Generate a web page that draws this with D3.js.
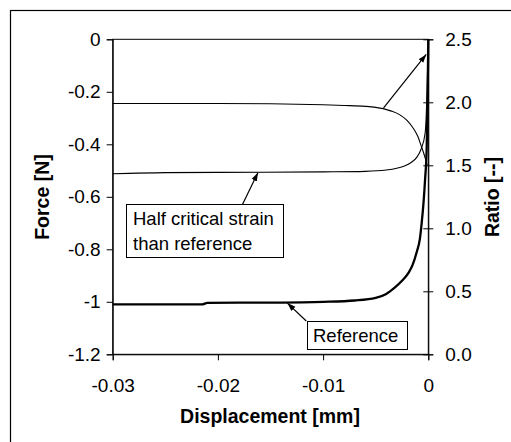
<!DOCTYPE html>
<html>
<head>
<meta charset="utf-8">
<script src="https://cdn.jsdelivr.net/npm/d3@7"></script>
<style>
body { margin: 0; background: #fff; }
svg { display: block; font-family: "Liberation Sans", Arial, sans-serif; }
</style>
</head>
<body>
<div class="canvas" id="canvas"></div>
<script>
// data
var xTicks = [-0.03, -0.02, -0.01, 0];
var forceTicks = [0, -0.2, -0.4, -0.6, -0.8, -1, -1.2];
var ratioTicks = [0, 0.5, 1, 1.5, 2, 2.5];

// reference force [disp, force]
var refForce = [
  [-0.03, -1.01], [-0.0215, -1.01], [-0.021, -1.004], [-0.015, -1.003],
  [-0.01, -1.0], [-0.007, -0.995], [-0.005, -0.985], [-0.004, -0.97],
  [-0.00317, -0.945], [-0.0025, -0.92], [-0.0019, -0.891], [-0.0015, -0.86],
  [-0.0011, -0.81], [-0.0008, -0.76], [-0.00063, -0.70], [-0.00045, -0.62],
  [-0.00031, -0.536], [-0.00015, -0.409], [-0.00006, -0.2], [0, 0]
];
// half critical strain force
var halfForce = [
  [-0.03, -0.512], [-0.025, -0.508], [-0.02, -0.507], [-0.01, -0.505],
  [-0.006, -0.503], [-0.004, -0.498], [-0.003, -0.491], [-0.0017, -0.471],
  [-0.0011, -0.45], [-0.0007, -0.42], [-0.0003, -0.357], [-0.00012, -0.2], [0, 0]
];
// ratio curve
var ratio = [
  [-0.03, 1.99], [-0.02, 1.99], [-0.01, 1.98], [-0.008, 1.975], [-0.006, 1.968],
  [-0.005, 1.96], [-0.0043, 1.95], [-0.0035, 1.93], [-0.0027, 1.90], [-0.002, 1.855],
  [-0.0014, 1.79], [-0.001, 1.73], [-0.0007, 1.66], [-0.0003, 1.56], [-0.0001, 1.5]
];

var W = 511, H = 442;

var svg = d3.select('.canvas').append('svg')
    .attr('width', W).attr('height', H);

// outer frame
svg.append('rect')
    .attr('x', 10.5).attr('y', 10.5)
    .attr('width', W).attr('height', H)
    .attr('fill', 'none').attr('stroke', '#000').attr('stroke-width', 1.2);

var x = d3.scaleLinear().domain([-0.03, 0]).range([112.7, 428.3]);
var yF = d3.scaleLinear().domain([-1.2, 0]).range([354.3, 39.3]);
var yR = d3.scaleLinear().domain([0, 2.5]).range([354.3, 39.3]);

var plot = svg.append('g');

// plot border
plot.append('rect')
    .attr('x', x(-0.03)).attr('y', yF(0))
    .attr('width', x(0) - x(-0.03)).attr('height', yF(-1.2) - yF(0))
    .attr('fill', 'none').attr('stroke', '#000').attr('stroke-width', 1);

function hy(s) { return s.replace('\u2212', '-'); }

var xAxis = plot.append('g')
    .attr('transform', 'translate(0,' + yF(-1.2) + ')')
    .call(d3.axisBottom(x).tickValues(xTicks).tickSizeOuter(0).tickSize(6).tickPadding(18)
        .tickFormat(function(d){ return d === 0 ? '0' : hy(d3.format('.2f')(d)); }));

var yAxisL = plot.append('g')
    .attr('transform', 'translate(' + x(-0.03) + ',0)')
    .call(d3.axisLeft(yF).tickValues(forceTicks).tickSizeOuter(0).tickSize(6).tickPadding(6)
        .tickFormat(function(d){ return d === 0 ? '0' : (d === -1 ? '-1' : hy(d3.format('.1f')(d))); }));

var yAxisR = plot.append('g')
    .attr('transform', 'translate(' + x(0) + ',0)')
    .call(d3.axisRight(yR).tickValues(ratioTicks).tickSizeOuter(0).tickSize(5).tickPadding(12)
        .tickFormat(d3.format('.1f')));
// right ticks cross the axis
yAxisR.selectAll('.tick line').attr('x1', -5);

[xAxis, yAxisL, yAxisR].forEach(function(a){
    a.attr('font-size', 19).attr('font-family', '"Liberation Sans", Arial, sans-serif');
    a.select('.domain').attr('stroke', '#000');
    a.selectAll('.tick line').attr('stroke', '#000');
    a.selectAll('text').attr('fill', '#000');
});

// curves
var lineF = d3.line().curve(d3.curveMonotoneX)
    .x(function(d){ return x(d[0]); }).y(function(d){ return yF(d[1]); });
var lineR = d3.line().curve(d3.curveMonotoneX)
    .x(function(d){ return x(d[0]); }).y(function(d){ return yR(d[1]); });

plot.append('path').attr('d', lineR(ratio))
    .attr('fill', 'none').attr('stroke', '#000').attr('stroke-width', 1.1);
plot.append('path').attr('d', lineF(halfForce))
    .attr('fill', 'none').attr('stroke', '#000').attr('stroke-width', 1.1);
plot.append('path').attr('d', lineF(refForce))
    .attr('fill', 'none').attr('stroke', '#000').attr('stroke-width', 2.3);

// arrows
var defs = svg.append('defs');
defs.append('marker').attr('id', 'arr')
    .attr('viewBox', '0 0 10 10').attr('refX', 10).attr('refY', 5)
    .attr('markerWidth', 7).attr('markerHeight', 7).attr('orient', 'auto')
    .append('path').attr('d', 'M0,1.5 L10,5 L0,8.5 Z').attr('fill', '#000');

function arrow(x1, y1, x2, y2) {
    plot.append('line')
        .attr('x1', x1).attr('y1', y1).attr('x2', x2).attr('y2', y2)
        .attr('stroke', '#000').attr('stroke-width', 1.2)
        .attr('marker-end', 'url(#arr)');
}
arrow(x(-0.00425), yR(1.955), x(-0.0002), yR(2.38));
arrow(x(-0.0177), yF(-0.632), x(-0.0162), yF(-0.508));
arrow(x(-0.0116), yF(-1.073), x(-0.0134), yF(-1.005));

// annotation boxes
function box(x0, y0, w, h, lines, tx, ty) {
    plot.append('rect').attr('x', x0).attr('y', y0).attr('width', w).attr('height', h)
        .attr('fill', '#fff').attr('stroke', '#000').attr('stroke-width', 1);
    lines.forEach(function(s, i){
        plot.append('text').attr('x', tx).attr('y', ty + i * 25)
            .attr('font-size', 18.5).text(s);
    });
}
box(126.5, 204.5, 157, 53, ['Half critical strain', 'than reference'], 133, 225);
box(307.5, 321.5, 100, 28, ['Reference'], 313, 342);

// axis titles
svg.append('text').attr('x', 270).attr('y', 423)
    .attr('text-anchor', 'middle').attr('font-size', 19.5).attr('font-weight', 'bold')
    .text('Displacement [mm]');
svg.append('text').attr('transform', 'translate(49,197) rotate(-90)')
    .attr('text-anchor', 'middle').attr('font-size', 19.5).attr('font-weight', 'bold')
    .text('Force [N]');
svg.append('text').attr('transform', 'translate(499,197) rotate(-90)')
    .attr('text-anchor', 'middle').attr('font-size', 19.5).attr('font-weight', 'bold')
    .text('Ratio [--]');
</script>
</body>
</html>
